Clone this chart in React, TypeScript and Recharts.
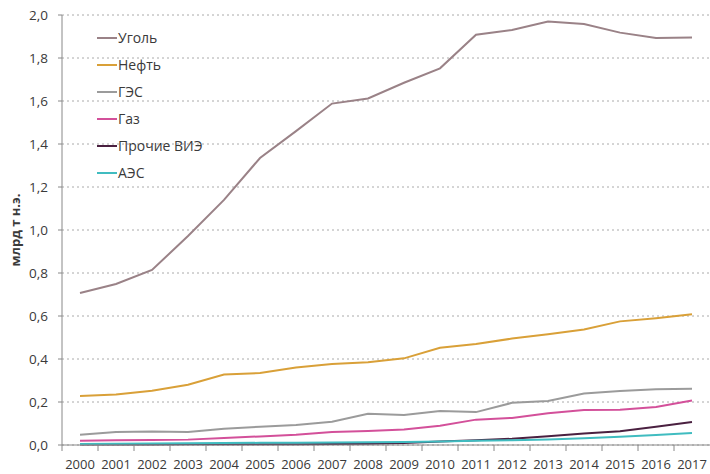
import React from "react";
import { LineChart, Line, XAxis, YAxis, CartesianGrid } from "recharts";

const years = [
  "2000", "2001", "2002", "2003", "2004", "2005", "2006", "2007", "2008",
  "2009", "2010", "2011", "2012", "2013", "2014", "2015", "2016", "2017",
];

const coal = [0.707, 0.749, 0.814, 0.972, 1.14, 1.335, 1.46, 1.588, 1.612, 1.685, 1.752, 1.908, 1.93, 1.97, 1.958, 1.918, 1.893, 1.895];
const oil = [0.228, 0.235, 0.252, 0.28, 0.328, 0.335, 0.36, 0.377, 0.385, 0.403, 0.452, 0.47, 0.495, 0.515, 0.537, 0.575, 0.59, 0.608];
const hydro = [0.048, 0.06, 0.063, 0.06, 0.076, 0.085, 0.093, 0.108, 0.145, 0.14, 0.158, 0.153, 0.196, 0.205, 0.24, 0.251, 0.259, 0.262];
const gas = [0.02, 0.022, 0.023, 0.025, 0.033, 0.04, 0.048, 0.06, 0.065, 0.072, 0.09, 0.118, 0.126, 0.148, 0.163, 0.164, 0.177, 0.207];
const otherRes = [0.002, 0.002, 0.002, 0.003, 0.003, 0.004, 0.004, 0.005, 0.006, 0.009, 0.016, 0.022, 0.029, 0.041, 0.053, 0.064, 0.085, 0.107];
const nuclear = [0.005, 0.006, 0.007, 0.008, 0.009, 0.01, 0.011, 0.012, 0.013, 0.014, 0.016, 0.02, 0.022, 0.026, 0.031, 0.038, 0.047, 0.056];

const yTicks = [0, 0.2, 0.4, 0.6, 0.8, 1.0, 1.2, 1.4, 1.6, 1.8, 2.0];

const series = [
  { key: "coal", name: "Уголь", color: "#9a8287" },
  { key: "oil", name: "Нефть", color: "#d9a038" },
  { key: "hydro", name: "ГЭС", color: "#9b9b9b" },
  { key: "gas", name: "Газ", color: "#d3509a" },
  { key: "otherRes", name: "Прочие ВИЭ", color: "#4a2040" },
  { key: "nuclear", name: "АЭС", color: "#40bcc0" },
];

const data = years.map((year, i) => ({
  year,
  coal: coal[i],
  oil: oil[i],
  hydro: hydro[i],
  gas: gas[i],
  otherRes: otherRes[i],
  nuclear: nuclear[i],
}));

const FONT = "'Open Sans', sans-serif";
const TEXT = "#3a3a3a";

function YearTick(props: any) {
  const { x, y, payload } = props;
  const half = payload.offset ?? 18;
  return (
    <g>
      <line x1={x - half} x2={x - half} y1={y - 8} y2={y - 2} stroke="#888" />
      <text x={x} y={y + 16} textAnchor="middle" fill={TEXT} fontSize={13} fontFamily={FONT}>
        {payload.value}
      </text>
    </g>
  );
}

function LegendBox() {
  return (
    <div
      style={{
        position: "absolute",
        left: 97,
        top: 24,
        fontFamily: FONT,
        fontSize: 14,
        color: TEXT,
        lineHeight: "27px",
      }}
    >
      {series.map((s) => (
        <div key={s.key} style={{ display: "flex", alignItems: "center", height: 27 }}>
          <span style={{ display: "inline-block", width: 20, height: 2, background: s.color }} />
          <span style={{ marginLeft: 1 }}>{s.name}</span>
        </div>
      ))}
    </div>
  );
}

export default function App() {
  return (
    <div style={{ position: "absolute", left: 0, top: 0, width: 710, height: 474, background: "#fff" }}>
      <LineChart width={710} height={474} data={data} margin={{ top: 15, right: 0, left: 0, bottom: 0 }}>
        <CartesianGrid horizontal vertical={false} stroke="#aaa" strokeDasharray="2 3" />
        <XAxis
          dataKey="year"
          scale="band"
          height={29}
          tickLine={false}
          tickSize={6}
          tickMargin={2}
          axisLine={{ stroke: "#888" }}
          tick={<YearTick />}
          interval={0}
        />
        <YAxis
          width={62}
          domain={[0, 2]}
          ticks={yTicks}
          tickSize={4}
          tickMargin={10}
          axisLine={{ stroke: "#888" }}
          tickLine={{ stroke: "#888" }}
          tick={{ fill: TEXT, fontSize: 13.5, fontFamily: FONT }}
          tickFormatter={(v: number) => v.toFixed(1).replace(".", ",")}
          label={{
            content: (p: any) => {
              const vb = p.viewBox;
              const cx = 17;
              const cy = vb.y + vb.height / 2;
              return (
                <text
                  x={cx}
                  y={cy}
                  transform={`rotate(-90 ${cx} ${cy})`}
                  textAnchor="middle"
                  dominantBaseline="middle"
                  fill={TEXT}
                  fontSize={13}
                  fontWeight="bold"
                  fontFamily={FONT}
                >
                  млрд т н.э.
                </text>
              );
            },
          }}
        />
        {series.map((s) => (
          <Line
            key={s.key}
            dataKey={s.key}
            name={s.name}
            stroke={s.color}
            strokeWidth={2}
            dot={false}
            activeDot={false}
            isAnimationActive={false}
          />
        ))}
      </LineChart>
      <LegendBox />
    </div>
  );
}
